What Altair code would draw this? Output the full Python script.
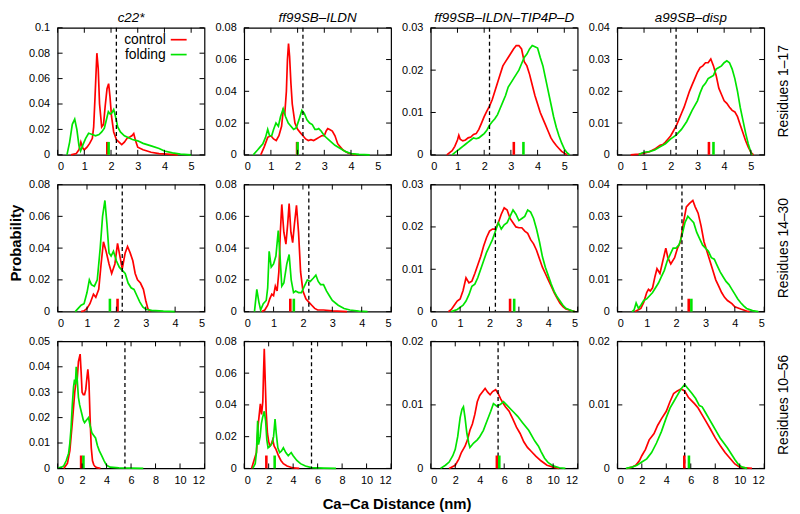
import altair as alt
import pandas as pd

FORCE_FIELDS = ["c22*", "ff99SB–ILDN", "ff99SB–ILDN–TIP4P–D", "a99SB–disp"]
ROW_LABELS = ["Residues 1–17", "Residues 14–30", "Residues 10–56"]
SERIES = ["control", "folding"]
X_MAX = [5.5, 5, 12]
X_TICKS = [[0, 1, 2, 3, 4, 5], [0, 1, 2, 3, 4, 5], [0, 2, 4, 6, 8, 10, 12]]
Y_MAX = [[0.1, 0.08, 0.03, 0.04], [0.08, 0.08, 0.03, 0.04], [0.05, 0.08, 0.02, 0.02]]
Y_STEP = [[0.02, 0.02, 0.01, 0.01], [0.02, 0.02, 0.01, 0.01], [0.01, 0.02, 0.01, 0.01]]
THRESHOLD = [2.2, 2.2, 5.5]
MEANS_CONTROL = [[1.86, 1.98, 3.11, 3.43], [2.04, 1.57, 2.70, 2.43], [1.92, 1.81, 5.40, 5.47]]
MEANS_FOLDING = [[1.91, 2.00, 3.47, 3.60], [1.78, 1.69, 2.84, 2.52], [2.11, 2.49, 5.60, 5.85]]

# ---------------- Row 1: Residues 1-17 ----------------
r1_c22_ctrl_x = [0.5, 0.7, 0.8, 0.87, 0.95, 1.0, 1.1, 1.2, 1.3, 1.35, 1.4, 1.47, 1.52, 1.57, 1.65, 1.72, 1.78, 1.85, 1.91, 1.96, 2.02, 2.1, 2.2, 2.3, 2.4, 2.5, 2.6, 2.7, 2.78, 2.85, 2.92, 3.0, 3.2, 3.5, 3.8, 4.1, 4.5]
r1_c22_ctrl_y = [0, 0.001, 0.004, 0.010, 0.005, 0.004, 0.006, 0.009, 0.013, 0.022, 0.045, 0.080, 0.068, 0.040, 0.022, 0.024, 0.038, 0.052, 0.056, 0.046, 0.030, 0.018, 0.012, 0.010, 0.008, 0.010, 0.013, 0.014, 0.015, 0.0167, 0.011, 0.006, 0.004, 0.002, 0.001, 0.0005, 0]
r1_c22_fold_x = [0.35, 0.45, 0.55, 0.64, 0.72, 0.8, 0.86, 0.95, 1.05, 1.16, 1.3, 1.42, 1.55, 1.65, 1.75, 1.82, 1.9, 1.97, 2.03, 2.1, 2.17, 2.25, 2.35, 2.5, 2.6, 2.8, 3.0, 3.2, 3.5, 3.8, 4.0, 4.3, 4.6, 5.0]
r1_c22_fold_y = [0, 0.010, 0.024, 0.028, 0.020, 0.007, 0.003, 0.008, 0.013, 0.017, 0.016, 0.015, 0.016, 0.018, 0.021, 0.027, 0.034, 0.032, 0.033, 0.0357, 0.030, 0.022, 0.018, 0.015, 0.014, 0.012, 0.011, 0.009, 0.007, 0.005, 0.003, 0.0015, 0.0005, 0]

r1_ildn_ctrl_x = [0.62, 0.75, 0.88, 1.0, 1.1, 1.2, 1.3, 1.4, 1.46, 1.52, 1.58, 1.62, 1.66, 1.7, 1.75, 1.8, 1.9, 2.0, 2.1, 2.2, 2.3, 2.4, 2.5, 2.6, 2.7, 2.8, 2.9, 3.0, 3.07, 3.13, 3.2, 3.3, 3.4, 3.5, 3.7, 3.9, 4.2]
r1_ildn_ctrl_y = [0, 0.005, 0.011, 0.012, 0.010, 0.009, 0.012, 0.018, 0.028, 0.026, 0.040, 0.060, 0.070, 0.062, 0.045, 0.032, 0.020, 0.016, 0.014, 0.012, 0.010, 0.009, 0.0095, 0.009, 0.010, 0.011, 0.012, 0.012, 0.015, 0.0165, 0.016, 0.015, 0.012, 0.007, 0.003, 0.001, 0]
r1_ildn_fold_x = [0.34, 0.5, 0.6, 0.7, 0.8, 0.88, 0.95, 1.03, 1.1, 1.19, 1.28, 1.36, 1.46, 1.55, 1.65, 1.75, 1.85, 1.95, 2.05, 2.16, 2.25, 2.35, 2.45, 2.55, 2.65, 2.72, 2.79, 2.88, 3.0, 3.2, 3.4, 3.6, 3.8, 4.0, 4.3, 4.7]
r1_ildn_fold_y = [0, 0.003, 0.005, 0.007, 0.011, 0.016, 0.012, 0.012, 0.016, 0.020, 0.018, 0.024, 0.029, 0.024, 0.020, 0.018, 0.016, 0.017, 0.022, 0.028, 0.026, 0.022, 0.020, 0.019, 0.016, 0.016, 0.0165, 0.015, 0.012, 0.009, 0.006, 0.004, 0.002, 0.0008, 0.0003, 0]

r1_tip_ctrl_x = [0.6, 0.8, 0.9, 1.0, 1.05, 1.1, 1.2, 1.3, 1.4, 1.5, 1.6, 1.7, 1.8, 1.9, 2.0, 2.1, 2.2, 2.3, 2.4, 2.5, 2.6, 2.7, 2.8, 2.9, 3.0, 3.1, 3.2, 3.3, 3.4, 3.5, 3.6, 3.7, 3.8, 3.9, 4.0, 4.1, 4.2, 4.3, 4.4, 4.5, 4.6, 4.7, 4.8, 4.9, 5.0, 5.1]
r1_tip_ctrl_y = [0, 0.001, 0.002, 0.0035, 0.0046, 0.0037, 0.0033, 0.0035, 0.004, 0.0042, 0.0048, 0.005, 0.006, 0.0075, 0.009, 0.0103, 0.0115, 0.013, 0.015, 0.017, 0.019, 0.021, 0.022, 0.023, 0.024, 0.025, 0.0258, 0.0258, 0.025, 0.022, 0.021, 0.019, 0.0165, 0.014, 0.012, 0.010, 0.0085, 0.007, 0.0055, 0.004, 0.003, 0.0022, 0.0015, 0.0008, 0.0004, 0]
r1_tip_fold_x = [0.8, 0.9, 1.0, 1.1, 1.2, 1.3, 1.4, 1.5, 1.6, 1.7, 1.8, 1.9, 2.0, 2.1, 2.2, 2.3, 2.4, 2.5, 2.6, 2.7, 2.8, 2.9, 3.0, 3.1, 3.2, 3.3, 3.4, 3.5, 3.6, 3.7, 3.8, 3.9, 4.0, 4.1, 4.2, 4.3, 4.4, 4.5, 4.6, 4.7, 4.8, 4.9, 5.0, 5.1, 5.2]
r1_tip_fold_y = [0, 0.0005, 0.001, 0.0015, 0.002, 0.0025, 0.003, 0.0035, 0.004, 0.0038, 0.004, 0.0045, 0.005, 0.0058, 0.007, 0.0078, 0.0085, 0.0095, 0.011, 0.0125, 0.014, 0.016, 0.017, 0.018, 0.019, 0.020, 0.0215, 0.023, 0.0238, 0.025, 0.0258, 0.0255, 0.0252, 0.023, 0.021, 0.018, 0.015, 0.012, 0.009, 0.0065, 0.0045, 0.0028, 0.0014, 0.0005, 0]

r1_disp_ctrl_x = [0.5, 0.8, 1.0, 1.2, 1.4, 1.6, 1.7, 1.8, 1.9, 2.0, 2.1, 2.2, 2.3, 2.4, 2.5, 2.6, 2.7, 2.8, 2.9, 3.0, 3.1, 3.2, 3.3, 3.4, 3.5, 3.6, 3.7, 3.8, 3.9, 4.0, 4.1, 4.2, 4.3, 4.4, 4.5, 4.6, 4.7, 4.8, 4.9, 5.0, 5.1]
r1_disp_ctrl_y = [0, 0.0002, 0.0005, 0.001, 0.0018, 0.003, 0.0032, 0.004, 0.005, 0.006, 0.0075, 0.009, 0.011, 0.013, 0.015, 0.0175, 0.020, 0.022, 0.024, 0.026, 0.0275, 0.028, 0.029, 0.029, 0.0302, 0.028, 0.025, 0.021, 0.019, 0.017, 0.0162, 0.015, 0.014, 0.0135, 0.012, 0.0095, 0.007, 0.0045, 0.0025, 0.0008, 0]
r1_disp_fold_x = [0.8, 0.9, 1.0, 1.2, 1.4, 1.6, 1.8, 2.0, 2.2, 2.4, 2.6, 2.8, 3.0, 3.1, 3.2, 3.3, 3.4, 3.5, 3.6, 3.7, 3.8, 3.9, 4.0, 4.1, 4.2, 4.3, 4.4, 4.5, 4.6, 4.7, 4.8, 4.9, 5.0, 5.05]
r1_disp_fold_y = [0, 0.0005, 0.0008, 0.001, 0.0015, 0.0025, 0.0035, 0.005, 0.0062, 0.008, 0.0105, 0.014, 0.017, 0.0195, 0.0215, 0.0225, 0.024, 0.0245, 0.025, 0.027, 0.0275, 0.028, 0.029, 0.0296, 0.029, 0.027, 0.024, 0.020, 0.015, 0.011, 0.007, 0.0035, 0.0008, 0]

# ---------------- Row 2: Residues 14-30 ----------------
r2_c22_ctrl_x = [0.8, 0.9, 1.0, 1.1, 1.22, 1.3, 1.4, 1.48, 1.56, 1.65, 1.75, 1.84, 1.95, 2.04, 2.12, 2.2, 2.3, 2.38, 2.47, 2.56, 2.64, 2.72, 2.82, 2.92, 3.0, 3.07, 3.15]
r2_c22_ctrl_y = [0, 0.0005, 0.002, 0.005, 0.011, 0.009, 0.014, 0.030, 0.044, 0.038, 0.030, 0.024, 0.030, 0.043, 0.035, 0.027, 0.037, 0.041, 0.037, 0.032, 0.024, 0.020, 0.018, 0.014, 0.007, 0.002, 0]
r2_c22_fold_x = [0.6, 0.7, 0.8, 0.9, 1.0, 1.08, 1.15, 1.25, 1.35, 1.45, 1.53, 1.61, 1.68, 1.75, 1.82, 1.9, 2.0, 2.1, 2.2, 2.3, 2.4, 2.5, 2.6, 2.7, 2.8, 2.9, 3.0, 3.2, 3.6, 4.0]
r2_c22_fold_y = [0, 0.002, 0.004, 0.005, 0.012, 0.020, 0.017, 0.016, 0.020, 0.040, 0.060, 0.070, 0.055, 0.037, 0.035, 0.038, 0.032, 0.028, 0.026, 0.024, 0.018, 0.015, 0.014, 0.010, 0.006, 0.003, 0.0015, 0.0008, 0.0003, 0]

r2_ildn_ctrl_x = [0.6, 0.7, 0.8, 0.87, 0.94, 1.0, 1.06, 1.12, 1.18, 1.23, 1.28, 1.35, 1.42, 1.48, 1.53, 1.59, 1.65, 1.71, 1.78, 1.85, 1.92, 2.0, 2.1, 2.2, 2.3, 2.4, 2.5, 2.7, 3.0, 3.5]
r2_ildn_ctrl_y = [0, 0.001, 0.004, 0.008, 0.011, 0.010, 0.016, 0.013, 0.025, 0.050, 0.0675, 0.050, 0.0425, 0.055, 0.068, 0.050, 0.0435, 0.055, 0.067, 0.050, 0.025, 0.013, 0.008, 0.006, 0.004, 0.002, 0.001, 0.001, 0.0005, 0]
r2_ildn_fold_x = [0.35, 0.43, 0.5, 0.56, 0.65, 0.75, 0.8, 0.85, 0.92, 1.0, 1.08, 1.16, 1.22, 1.28, 1.35, 1.45, 1.53, 1.6, 1.68, 1.75, 1.85, 1.95, 2.05, 2.15, 2.25, 2.35, 2.44, 2.52, 2.6, 2.7, 2.8, 2.9, 3.0, 3.2, 3.4, 3.6, 3.9, 4.2]
r2_ildn_fold_y = [0, 0.014, 0.006, 0.001, 0.005, 0.007, 0.015, 0.038, 0.028, 0.030, 0.035, 0.051, 0.035, 0.016, 0.018, 0.030, 0.036, 0.020, 0.012, 0.013, 0.012, 0.012, 0.016, 0.020, 0.019, 0.021, 0.023, 0.019, 0.017, 0.017, 0.013, 0.010, 0.007, 0.004, 0.002, 0.001, 0.0003, 0]

r2_tip_ctrl_x = [0.6, 0.7, 0.8, 0.9, 1.0, 1.1, 1.2, 1.3, 1.4, 1.5, 1.6, 1.7, 1.8, 1.9, 2.0, 2.1, 2.2, 2.3, 2.4, 2.5, 2.6, 2.7, 2.8, 2.9, 3.0, 3.1, 3.2, 3.3, 3.4, 3.5, 3.6, 3.7, 3.8, 3.9, 4.0, 4.1, 4.2, 4.3, 4.4, 4.5, 4.6, 4.8, 4.9]
r2_tip_ctrl_y = [0, 0.0005, 0.0015, 0.0025, 0.003, 0.005, 0.008, 0.0068, 0.0072, 0.009, 0.011, 0.013, 0.0155, 0.0175, 0.019, 0.0195, 0.0195, 0.021, 0.023, 0.0245, 0.024, 0.022, 0.021, 0.020, 0.0198, 0.0198, 0.019, 0.0185, 0.017, 0.016, 0.0145, 0.0125, 0.0105, 0.009, 0.0075, 0.006, 0.0045, 0.0032, 0.002, 0.0012, 0.0006, 0.0002, 0]
r2_tip_fold_x = [0.7, 0.9, 1.0, 1.1, 1.2, 1.3, 1.4, 1.5, 1.6, 1.7, 1.8, 1.9, 2.0, 2.1, 2.2, 2.3, 2.4, 2.5, 2.6, 2.7, 2.8, 2.9, 3.0, 3.1, 3.2, 3.3, 3.4, 3.5, 3.6, 3.7, 3.8, 3.9, 4.0, 4.1, 4.2, 4.3, 4.4, 4.5, 4.6, 4.8, 4.9]
r2_tip_fold_y = [0, 0.0005, 0.001, 0.0015, 0.0025, 0.004, 0.006, 0.0065, 0.008, 0.010, 0.012, 0.014, 0.0155, 0.017, 0.019, 0.021, 0.0195, 0.0205, 0.021, 0.0225, 0.024, 0.023, 0.0215, 0.022, 0.0225, 0.024, 0.0235, 0.022, 0.0195, 0.0165, 0.013, 0.0105, 0.0085, 0.0065, 0.0048, 0.0035, 0.0025, 0.0015, 0.0008, 0.0002, 0]

r2_disp_ctrl_x = [0.6, 0.7, 0.8, 0.9, 1.0, 1.06, 1.12, 1.2, 1.28, 1.35, 1.45, 1.55, 1.65, 1.72, 1.82, 1.95, 2.05, 2.15, 2.25, 2.35, 2.45, 2.57, 2.65, 2.75, 2.85, 2.95, 3.05, 3.15, 3.25, 3.35, 3.45, 3.55, 3.65, 3.75, 3.9, 4.0, 4.2, 4.4, 4.5]
r2_disp_ctrl_y = [0, 0.0005, 0.001, 0.003, 0.006, 0.007, 0.0065, 0.0075, 0.011, 0.0135, 0.012, 0.016, 0.020, 0.017, 0.015, 0.017, 0.020, 0.022, 0.028, 0.033, 0.034, 0.035, 0.033, 0.031, 0.027, 0.022, 0.019, 0.016, 0.013, 0.010, 0.008, 0.006, 0.0045, 0.0035, 0.0025, 0.0015, 0.0008, 0.0002, 0]
r2_disp_fold_x = [0.5, 0.57, 0.64, 0.72, 0.8, 0.9, 1.0, 1.1, 1.2, 1.3, 1.4, 1.5, 1.6, 1.7, 1.8, 1.9, 2.0, 2.1, 2.2, 2.3, 2.4, 2.5, 2.6, 2.7, 2.8, 2.9, 3.0, 3.1, 3.2, 3.3, 3.4, 3.5, 3.6, 3.7, 3.8, 3.9, 4.0, 4.1, 4.2, 4.3, 4.4, 4.6, 4.8]
r2_disp_fold_y = [0, 0.0005, 0.0027, 0.001, 0.002, 0.0035, 0.004, 0.005, 0.006, 0.0075, 0.009, 0.011, 0.013, 0.016, 0.018, 0.020, 0.020, 0.021, 0.024, 0.028, 0.030, 0.029, 0.028, 0.025, 0.023, 0.021, 0.020, 0.019, 0.017, 0.0165, 0.0145, 0.0125, 0.011, 0.0095, 0.0085, 0.007, 0.0055, 0.004, 0.0028, 0.0018, 0.001, 0.0003, 0]

# ---------------- Row 3: Residues 10-56 ----------------
r3_c22_ctrl_x = [0.5, 0.8, 1.0, 1.2, 1.4, 1.5, 1.6, 1.7, 1.84, 1.92, 2.0, 2.1, 2.2, 2.3, 2.4, 2.47, 2.56, 2.65, 2.75, 2.85, 2.95, 3.05, 3.2, 3.5]
r3_c22_ctrl_y = [0, 0.002, 0.007, 0.018, 0.030, 0.034, 0.035, 0.042, 0.045, 0.038, 0.030, 0.029, 0.029, 0.031, 0.036, 0.039, 0.034, 0.020, 0.008, 0.003, 0.0015, 0.0008, 0.0003, 0]
r3_c22_fold_x = [0.0, 0.3, 0.5, 0.7, 0.9, 1.0, 1.1, 1.2, 1.3, 1.38, 1.45, 1.52, 1.6, 1.7, 1.8, 1.9, 2.0, 2.1, 2.2, 2.35, 2.52, 2.65, 2.8, 2.95, 3.1, 3.25, 3.4, 3.6, 3.8, 4.0, 4.3, 5.0, 6.0, 7.0]
r3_c22_fold_y = [0, 0.0005, 0.001, 0.003, 0.006, 0.010, 0.016, 0.025, 0.032, 0.035, 0.033, 0.040, 0.035, 0.028, 0.025, 0.023, 0.021, 0.019, 0.018, 0.019, 0.020, 0.017, 0.014, 0.013, 0.012, 0.009, 0.007, 0.005, 0.003, 0.0012, 0.0005, 0.0002, 0.0001, 0]

r3_ildn_ctrl_x = [0.6, 0.8, 1.0, 1.15, 1.32, 1.42, 1.52, 1.58, 1.64, 1.72, 1.8, 1.9, 2.0, 2.1, 2.2, 2.33, 2.45, 2.6, 2.8, 3.0, 3.2, 3.5, 4.0, 4.5]
r3_ildn_ctrl_y = [0, 0.005, 0.010, 0.028, 0.0407, 0.034, 0.042, 0.060, 0.0754, 0.055, 0.035, 0.022, 0.017, 0.014, 0.015, 0.018, 0.014, 0.012, 0.008, 0.005, 0.003, 0.0015, 0.0003, 0]
r3_ildn_fold_x = [0.7, 0.9, 1.0, 1.1, 1.17, 1.3, 1.4, 1.5, 1.64, 1.75, 1.85, 1.95, 2.1, 2.3, 2.4, 2.52, 2.62, 2.75, 2.9, 3.05, 3.2, 3.4, 3.6, 3.84, 4.0, 4.3, 4.6, 5.0, 5.5, 6.5, 7.5]
r3_ildn_fold_y = [0, 0.003, 0.010, 0.030, 0.015, 0.020, 0.028, 0.032, 0.036, 0.030, 0.018, 0.013, 0.014, 0.016, 0.020, 0.031, 0.022, 0.013, 0.010, 0.011, 0.013, 0.010, 0.008, 0.010, 0.008, 0.005, 0.003, 0.0015, 0.0005, 0.0002, 0]

r3_tip_ctrl_x = [1.5, 2.0, 2.3, 2.5, 2.8, 3.0, 3.2, 3.4, 3.6, 3.8, 4.0, 4.2, 4.44, 4.65, 4.85, 5.05, 5.3, 5.5, 5.7, 5.9, 6.1, 6.4, 6.7, 7.0, 7.3, 7.6, 7.9, 8.2, 8.6, 9.0, 9.5, 10.0, 10.5]
r3_tip_ctrl_y = [0, 0.0005, 0.0015, 0.0025, 0.0035, 0.0045, 0.006, 0.007, 0.0085, 0.0105, 0.0115, 0.012, 0.0126, 0.012, 0.0116, 0.0121, 0.0124, 0.0118, 0.011, 0.0103, 0.0097, 0.009, 0.0078, 0.0065, 0.0055, 0.0042, 0.0033, 0.0027, 0.0019, 0.0012, 0.0005, 0.0002, 0]
r3_tip_fold_x = [0.8, 1.2, 1.5, 1.8, 2.0, 2.2, 2.4, 2.55, 2.67, 2.8, 2.95, 3.1, 3.2, 3.5, 3.8, 4.0, 4.3, 4.6, 4.9, 5.12, 5.4, 5.7, 5.94, 6.2, 6.5, 6.8, 7.1, 7.5, 8.0, 8.5, 8.8, 9.0, 9.3, 9.6, 10.0, 10.5, 11.0]
r3_tip_fold_y = [0, 0.0005, 0.001, 0.002, 0.003, 0.005, 0.008, 0.0093, 0.0097, 0.008, 0.0055, 0.004, 0.0033, 0.004, 0.0045, 0.005, 0.006, 0.0075, 0.009, 0.0102, 0.0098, 0.0101, 0.0105, 0.010, 0.0094, 0.0088, 0.0082, 0.0072, 0.006, 0.0043, 0.0035, 0.0027, 0.0016, 0.0009, 0.0004, 0.0001, 0]

r3_disp_ctrl_x = [0.8, 1.2, 1.5, 1.8, 2.0, 2.3, 2.6, 2.8, 3.0, 3.3, 3.6, 4.0, 4.3, 4.6, 4.9, 5.2, 5.5, 5.8, 6.0, 6.3, 6.6, 7.0, 7.3, 7.6, 8.0, 8.4, 8.8, 9.2, 9.6, 10.0, 10.5, 11.0]
r3_disp_ctrl_y = [0, 0.0002, 0.0005, 0.0012, 0.002, 0.003, 0.0045, 0.005, 0.0055, 0.0068, 0.0078, 0.009, 0.0105, 0.0118, 0.0122, 0.0125, 0.0122, 0.0112, 0.0108, 0.0102, 0.0095, 0.0082, 0.0072, 0.0062, 0.0048, 0.0036, 0.0025, 0.0016, 0.0007, 0.0002, 0.0001, 0]
r3_disp_fold_x = [0.7, 1.2, 1.6, 2.0, 2.4, 2.8, 3.2, 3.6, 4.0, 4.3, 4.6, 4.9, 5.2, 5.5, 5.8, 6.1, 6.4, 6.7, 6.93, 7.2, 7.5, 7.8, 8.1, 8.4, 8.7, 9.0, 9.3, 9.6, 9.9, 10.2, 10.6]
r3_disp_fold_y = [0, 0.0002, 0.0005, 0.001, 0.0015, 0.0025, 0.004, 0.0058, 0.008, 0.0095, 0.0105, 0.0115, 0.0125, 0.0132, 0.0125, 0.0118, 0.011, 0.0099, 0.0097, 0.0088, 0.0078, 0.0068, 0.0058, 0.0048, 0.004, 0.0032, 0.0023, 0.0014, 0.0006, 0.0002, 0]

CURVES = [
    [((r1_c22_ctrl_x, r1_c22_ctrl_y), (r1_c22_fold_x, r1_c22_fold_y)),
     ((r1_ildn_ctrl_x, r1_ildn_ctrl_y), (r1_ildn_fold_x, r1_ildn_fold_y)),
     ((r1_tip_ctrl_x, r1_tip_ctrl_y), (r1_tip_fold_x, r1_tip_fold_y)),
     ((r1_disp_ctrl_x, r1_disp_ctrl_y), (r1_disp_fold_x, r1_disp_fold_y))],
    [((r2_c22_ctrl_x, r2_c22_ctrl_y), (r2_c22_fold_x, r2_c22_fold_y)),
     ((r2_ildn_ctrl_x, r2_ildn_ctrl_y), (r2_ildn_fold_x, r2_ildn_fold_y)),
     ((r2_tip_ctrl_x, r2_tip_ctrl_y), (r2_tip_fold_x, r2_tip_fold_y)),
     ((r2_disp_ctrl_x, r2_disp_ctrl_y), (r2_disp_fold_x, r2_disp_fold_y))],
    [((r3_c22_ctrl_x, r3_c22_ctrl_y), (r3_c22_fold_x, r3_c22_fold_y)),
     ((r3_ildn_ctrl_x, r3_ildn_ctrl_y), (r3_ildn_fold_x, r3_ildn_fold_y)),
     ((r3_tip_ctrl_x, r3_tip_ctrl_y), (r3_tip_fold_x, r3_tip_fold_y)),
     ((r3_disp_ctrl_x, r3_disp_ctrl_y), (r3_disp_fold_x, r3_disp_fold_y))],
]

Y_TITLE = "Probability"
X_TITLE = "Ca–Ca Distance (nm)"

W, H = 148, 128
TICK = 5
FONT = "Liberation Sans"
RED, GREEN = "#ff0000", "#00e400"
color_scale = alt.Scale(domain=SERIES, range=[RED, GREEN])


def panel(r, c):
    (cx, cy), (fx, fy) = CURVES[r][c]
    df = pd.concat([
        pd.DataFrame({"x": cx, "y": cy, "series": SERIES[0]}),
        pd.DataFrame({"x": fx, "y": fy, "series": SERIES[1]}),
    ], ignore_index=True)
    ymax, step = Y_MAX[r][c], Y_STEP[r][c]
    yt = [round(i * step, 3) for i in range(int(round(ymax / step)) + 1)]
    xs = alt.Scale(domain=[0, X_MAX[r]], nice=False, zero=False)
    ys = alt.Scale(domain=[0, ymax], nice=False)

    xaxis = alt.Axis(values=X_TICKS[r], ticks=False, domain=False, grid=False,
                     labelPadding=6, title=None, format="~g")
    yaxis = alt.Axis(values=yt, ticks=False, domain=False, grid=False,
                     labelPadding=8, title=None, format="~g")

    lines = alt.Chart(df).mark_line(strokeWidth=1.7).encode(
        x=alt.X("x:Q", scale=xs, axis=xaxis),
        y=alt.Y("y:Q", scale=ys, axis=yaxis),
        color=alt.Color("series:N", scale=color_scale, legend=None),
    )

    thr = alt.Chart(pd.DataFrame({"v": [THRESHOLD[r]]})).mark_rule(
        color="black", strokeDash=[4, 3], strokeWidth=1.3
    ).encode(x=alt.X("v:Q", scale=xs, axis=xaxis))

    means = alt.Chart(pd.DataFrame({
        "series": SERIES, "m": [MEANS_CONTROL[r][c], MEANS_FOLDING[r][c]]
    })).mark_rule(strokeWidth=2.6).encode(
        x=alt.X("m:Q", scale=xs, axis=xaxis),
        y=alt.value(H), y2=alt.value(H - 13),
        color=alt.Color("series:N", scale=color_scale, legend=None),
    )

    xt = pd.DataFrame({"t": X_TICKS[r]})
    ytd = pd.DataFrame({"t": yt})
    tick_style = dict(color="black", strokeWidth=1)
    tb = alt.Chart(xt).mark_rule(**tick_style).encode(
        x=alt.X("t:Q", scale=xs, axis=xaxis), y=alt.value(H), y2=alt.value(H - TICK))
    tt = alt.Chart(xt).mark_rule(**tick_style).encode(
        x=alt.X("t:Q", scale=xs, axis=xaxis), y=alt.value(0), y2=alt.value(TICK))
    tl = alt.Chart(ytd).mark_rule(**tick_style).encode(
        y=alt.Y("t:Q", scale=ys, axis=yaxis), x=alt.value(0), x2=alt.value(TICK))
    tr = alt.Chart(ytd).mark_rule(**tick_style).encode(
        y=alt.Y("t:Q", scale=ys, axis=yaxis), x=alt.value(W), x2=alt.value(W - TICK))

    layers = [lines, thr, means, tb, tt, tl, tr]

    if r == 0:
        layers.append(alt.Chart(pd.DataFrame({"label": [FORCE_FIELDS[c]]})).mark_text(
            align="center", baseline="middle", fontSize=13.5, fontStyle="italic",
            font=FONT, color="black"
        ).encode(x=alt.value(W / 2), y=alt.value(-10), text="label:N"))

    if r == 0 and c == 0:
        for i, s in enumerate(SERIES):
            sd = pd.DataFrame({"series": [s]})
            layers.append(alt.Chart(sd).mark_text(
                align="right", baseline="middle", fontSize=14, font=FONT, color="black"
            ).encode(x=alt.value(109), y=alt.value(12 + 15 * i), text="series:N"))
            layers.append(alt.Chart(sd).mark_rule(strokeWidth=1.7).encode(
                x=alt.value(114), x2=alt.value(130), y=alt.value(12 + 15 * i),
                color=alt.Color("series:N", scale=color_scale, legend=None)))

    if c == 3:
        layers.append(alt.Chart(pd.DataFrame({"label": [ROW_LABELS[r]]})).mark_text(
            angle=270, align="center", baseline="middle", fontSize=14, font=FONT, color="black"
        ).encode(x=alt.value(W + 20), y=alt.value(H / 2), text="label:N"))

    if r == 1 and c == 0:
        layers.append(alt.Chart(pd.DataFrame({"label": [Y_TITLE]})).mark_text(
            angle=270, align="center", baseline="middle", fontSize=15, fontWeight="bold",
            font=FONT, color="black"
        ).encode(x=alt.value(-42), y=alt.value(59), text="label:N"))

    if r == 2 and c == 1:
        layers.append(alt.Chart(pd.DataFrame({"label": [X_TITLE]})).mark_text(
            align="center", baseline="middle", fontSize=15, fontWeight="bold",
            font=FONT, color="black"
        ).encode(x=alt.value(154), y=alt.value(H + 36), text="label:N"))

    return alt.layer(*layers).properties(width=W, height=H)


panels = [panel(r, c) for r in range(3) for c in range(4)]

chart = alt.concat(
    *panels, columns=4, spacing={"row": 30, "column": 40}, bounds="flush",
    padding={"left": 0, "top": 0, "right": 0, "bottom": 0},
).configure(font=FONT).configure_view(
    stroke="black", strokeWidth=1.2
).configure_axis(
    labelFont=FONT, labelFontSize=11, labelColor="black"
)

chart.save("out.html", embed_options={"renderer": "svg", "actions": False})
